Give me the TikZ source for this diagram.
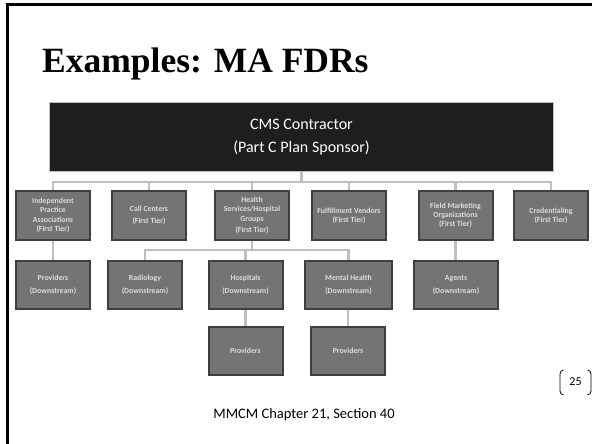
\documentclass[tikz,border=0pt]{standalone}
\usepackage{fontspec}
\setmainfont{Carlito}
\newfontfamily\titlefont{Liberation Serif}
\usetikzlibrary{positioning}
\definecolor{framegray}{HTML}{3F3F3F}
\definecolor{boxgray}{HTML}{747474}
\definecolor{textgray}{HTML}{DCDCDC}
\definecolor{linkgray}{HTML}{BFBFBF}
\definecolor{cmsblack}{HTML}{1E1E1E}
\tikzset{
  link/.style={linkgray, line width=2.5pt},
  cmsnode/.style={draw=linkgray, fill=cmsblack, line width=0.8pt, text=white, align=center, minimum width=504pt, minimum height=69pt, font=\fontsize{16}{23}\selectfont},
  tiernode/.style={draw=framegray, fill=boxgray, line width=2pt, text=textgray, align=center, inner sep=1pt, minimum width=74pt, minimum height=49pt, font=\bfseries\fontsize{7.8}{9.3}\selectfont},
  downnode/.style={tiernode, minimum height=48pt},
  slidetitle/.style={anchor=base west, inner sep=0pt, font=\titlefont\bfseries\fontsize{35.5}{40}\selectfont},
  footnote/.style={inner sep=0pt, font=\fontsize{14.5}{16}\selectfont}
}
\begin{document}
\begin{tikzpicture}[x=1pt, y=-1pt]
  \useasboundingbox (0,0) rectangle (592,444);
  \clip (0,0) rectangle (592,444);
  % slide frame
  \draw[line width=3pt] (7,460) -- (7,5) -- (610,5);
  \node[slidetitle] (title) at (42,73) {Examples: MA FDRs};
  % top level
  \node[cmsnode] (cms) at (301.5,137) {CMS Contractor\\(Part C Plan Sponsor)};
  % first tier
  \node[tiernode] (ipa) at (53,215.5) {Independent\\Practice\\Associations\\(First Tier)};
  \node[tiernode] (call) at (149,215.5) {Call Centers\\[2.5pt](First Tier)};
  \node[tiernode] (health) at (252,215.5) {Health\\Services/Hospital\\Groups\\[2.5pt](First Tier)};
  \node[tiernode] (fulfil) at (349,215.5) {Fulfillment Vendors\\(First Tier)};
  \node[tiernode] (field) at (455.5,215.5) {Field Marketing\\Organizations\\(First Tier)};
  \node[tiernode] (cred) at (551,215.5) {Credentialing\\(First Tier)};
  % downstream
  \node[downnode] (provA) at (53,285) {Providers\\[3.5pt](Downstream)};
  \node[downnode] (radio) at (145,285) {Radiology\\[3.5pt](Downstream)};
  \node[downnode] (hosp) at (245.5,285) {Hospitals\\[3.5pt](Downstream)};
  \node[downnode, minimum width=87pt] (mental) at (348.5,285) {Mental Health\\[3.5pt](Downstream)};
  \node[downnode, minimum width=84pt] (agents) at (456,285) {Agents\\[3.5pt](Downstream)};
  \node[downnode, below=16pt of hosp] (provB) {Providers};
  \node[downnode, below=16pt of mental.south, anchor=north, xshift=-0.5pt, minimum width=74pt] (provC) {Providers};
  % connectors
  \coordinate (topbar) at (301.5,182);
  \coordinate (subbar) at (252,250);
  \draw[link] (cms.south) -- (topbar);
  \foreach \n in {ipa,call,health,fulfil,field,cred}
    \draw[link] (\n.north) |- (topbar);
  \draw[link] (health.south) -- (subbar);
  \foreach \n in {radio,hosp,mental}
    \draw[link] (\n.north) |- (subbar);
  \draw[link] (ipa) -- (provA);
  \draw[link] (field.south) -- (field.south |- agents.north);
  \draw[link] (hosp) -- (provB);
  \draw[link] (provC.north |- mental.south) -- (provC.north);
  \node[footnote] (source) at (304,415) {MMCM Chapter 21, Section 40};
  % page number
  \node[font=\fontsize{12}{14}\selectfont, inner sep=0pt] (pagenum) at (575.5,382) {25};
  \draw[line width=0.8pt] ([xshift=-12pt,yshift=12pt]pagenum.center) coordinate (lb)
    to[out=180, in=90] ++(-3.5,4) -- ++(0,17) to[out=-90, in=180] ++(3.5,4);
  \draw[line width=0.8pt] ([xshift=12pt,yshift=12pt]pagenum.center)
    to[out=0, in=90] ++(3.5,4) -- ++(0,17) to[out=-90, in=0] ++(-3.5,4);
\end{tikzpicture}
\end{document}
